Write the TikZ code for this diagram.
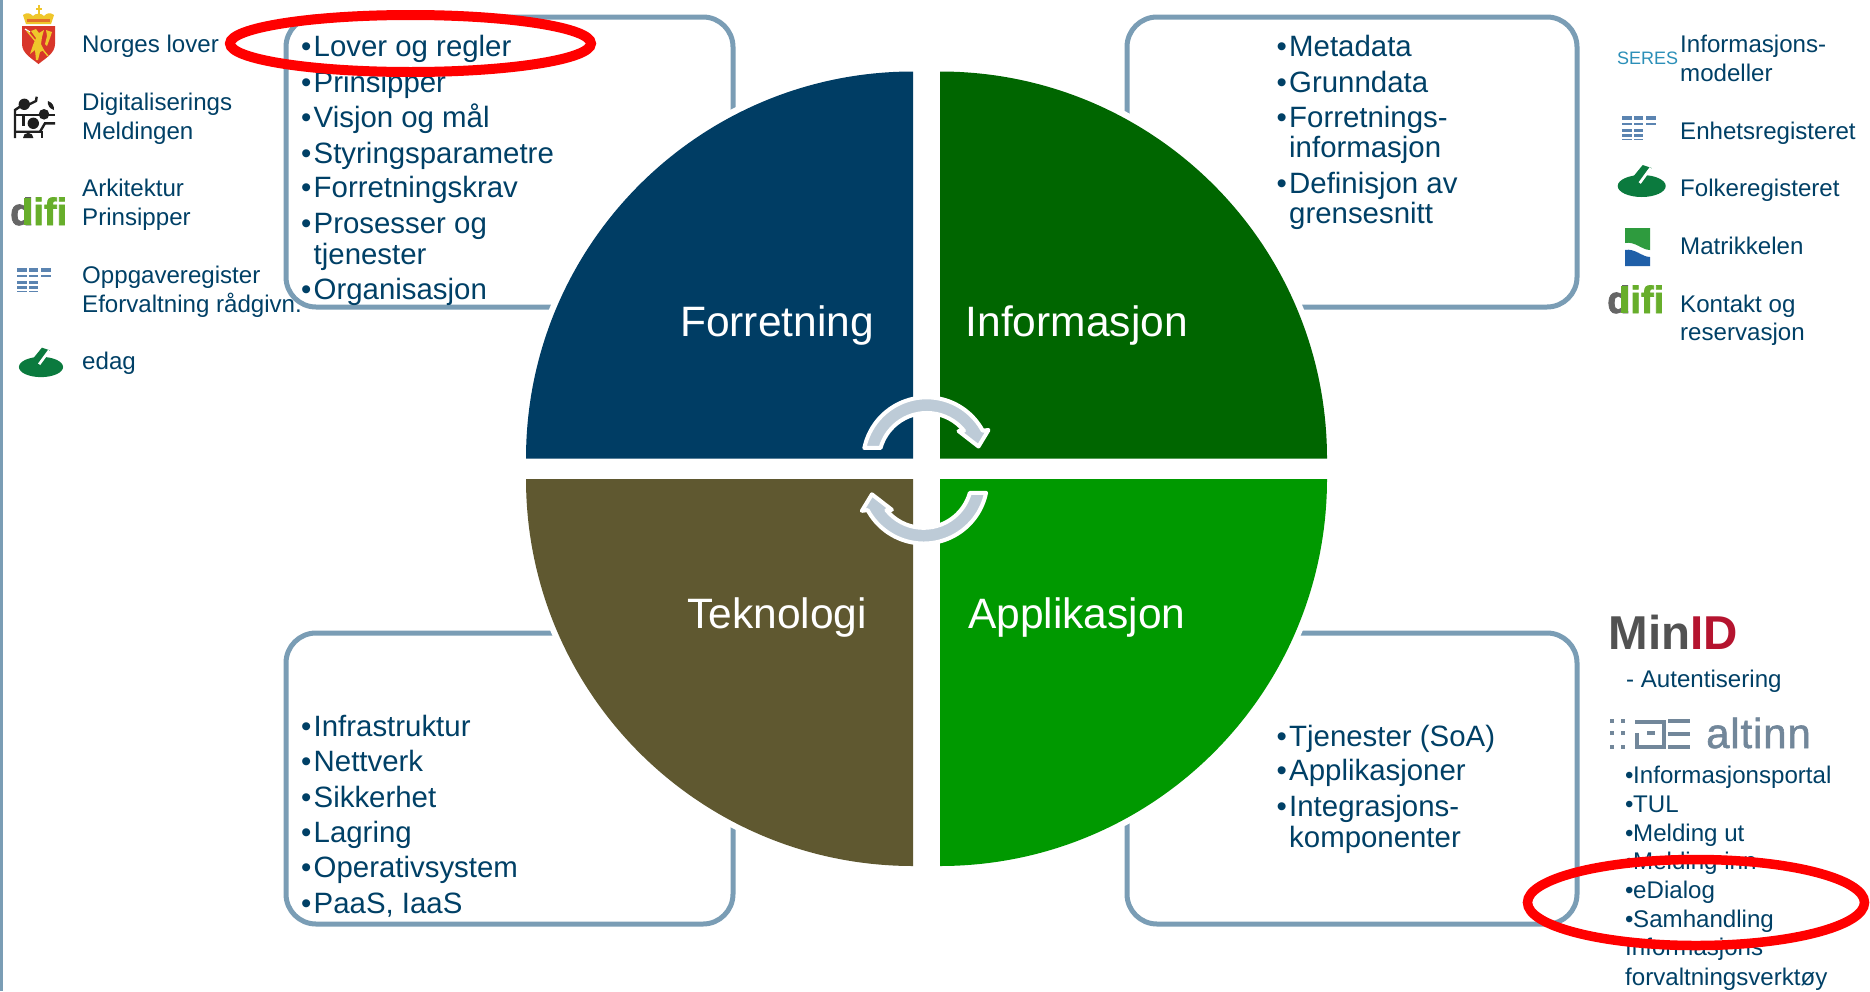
\documentclass[tikz,border=0pt]{standalone}
\usepackage{fontspec}
\setmainfont{Liberation Sans}
\newfontfamily\logobold{Liberation Sans Bold}[FakeBold=2]
\newfontfamily\altf{Liberation Sans}[FakeBold=1.3,LetterSpace=2]
\definecolor{txt}{HTML}{004066}
\definecolor{frame}{HTML}{7A9DB5}
\definecolor{qblue}{HTML}{003D64}
\definecolor{qdark}{HTML}{006600}
\definecolor{qolive}{HTML}{5F5830}
\definecolor{qgreen}{HTML}{009900}
\definecolor{arr}{HTML}{BDCBD7}
\definecolor{leaf}{HTML}{0B7A3E}
\definecolor{regb}{HTML}{5B84B1}
\definecolor{difig}{HTML}{67AE2B}
\definecolor{difid}{HTML}{666666}
\definecolor{minr}{HTML}{B5142F}
\definecolor{graylogo}{HTML}{72879A}
\definecolor{seresc}{HTML}{2B8FB8}
\definecolor{armred}{HTML}{D8362A}
\definecolor{armgold}{HTML}{EFC62B}
\definecolor{matg}{HTML}{2E9B3E}
\definecolor{matb}{HTML}{1F5FA8}
\newcommand{\bl}{\makebox[12.5pt][l]{•}}
\newcommand{\bs}{\makebox[8pt][l]{•}}
\newcommand{\regicon}[2]{%
  \begin{scope}[shift={(#1,#2)}]
    \foreach \yy/\hh in {0/3.5,-6.5/2.5,-12.5/3,-18/2.5,-22.5/1.5}{
      \fill[regb] (0,\yy) rectangle ++(9.5,-\hh);
      \fill[regb] (11.5,\yy) rectangle ++(9.5,-\hh);
    }
    \foreach \yy/\hh in {0/3.5,-6.5/2.5}{\fill[regb] (24,\yy) rectangle ++(9.5,-\hh);}
  \end{scope}}
\newcommand{\leaficon}[3]{%
  \begin{scope}[shift={(#1,#2)},scale=#3]
    \fill[leaf] (0,0) ellipse [x radius=24,y radius=11];
    \fill[leaf] (-8,10) -- (1,21) -- (10,18) -- (3,9) -- cycle;
    \draw[white,line width=2.7] (-2,3) -- (9,18);
  \end{scope}}
\newcommand{\difilogo}[2]{%
  \node[anchor=base west,inner sep=0,font=\fontsize{38}{38}\selectfont\logobold] at (#1,#2) {\textcolor{difid}{d}\textcolor{difig}{ifi}};
  \fill[difig] (#1+14,#2) rectangle (#1+20.5,#2+27);}
\newcommand{\arcarrow}{%
  \filldraw[fill=arr,draw=white,line width=4,line join=round]
    (926.7,-461) ++(168.2:63.7) arc[start angle=168.2,end angle=28.4,radius=63.7]
    -- (988.5,-430) -- (978.5,-446.5) -- (958.5,-431) -- (964,-430.7)
    arc[start angle=39.1,end angle=164.3,radius=48] -- cycle;}
\tikzset{
  x=1pt,y=1pt,
  bigl/.style={anchor=base west,inner sep=0,text=txt,yshift=-1pt,font=\fontsize{29.4}{31}\selectfont},
  smal/.style={anchor=base west,inner sep=0,text=txt,yshift=1pt,font=\fontsize{24.1}{26}\selectfont},
  qlabel/.style={anchor=base west,inner sep=0,text=white,font=\fontsize{42.5}{44}\selectfont},
  boxframe/.style={draw=frame,line width=5,rounded corners=30},
  redring/.style={draw=red,line width=#1}
}
\begin{document}
\begin{tikzpicture}
\useasboundingbox (0,0) rectangle (1870,-991);
\fill[white] (0,0) rectangle (1870,-991);
\fill[frame] (0,0) rectangle (3,-991);
% frames
\draw[boxframe] (286,-17) rectangle (733,-307);
\draw[boxframe] (1127,-17) rectangle (1577,-307);
\draw[boxframe] (286,-633) rectangle (733,-924);
\draw[boxframe] (1127,-633) rectangle (1577,-924);
% quadrants
\fill[white] (913,-458) -- ++(-393,0) arc[start angle=180,end angle=90,radius=393] -- cycle;
\fill[white] (940,-458) -- ++(0,393) arc[start angle=90,end angle=0,radius=393] -- cycle;
\fill[white] (913,-479) -- ++(0,-393) arc[start angle=270,end angle=180,radius=393] -- cycle;
\fill[white] (940,-479) -- ++(393,0) arc[start angle=0,end angle=-90,radius=393] -- cycle;
\fill[qblue] (913,-458.5) -- ++(-387,0) arc[start angle=180,end angle=90,radius=387] -- cycle;
\fill[qdark] (940,-458.5) -- ++(0,387) arc[start angle=90,end angle=0,radius=387] -- cycle;
\fill[qolive] (913,-479) -- ++(0,-387) arc[start angle=270,end angle=180,radius=387] -- cycle;
\fill[qgreen] (940,-479) -- ++(387,0) arc[start angle=0,end angle=-90,radius=387] -- cycle;
\node[qlabel] (forretning) at (680,-336) {Forretning};
\node[qlabel] (informasjon) at (965.5,-336) {Informasjon};
\node[qlabel] (teknologi) at (687,-628) {Teknologi};
\node[qlabel] (applikasjon) at (968,-628) {Applikasjon};
% cycle arrows
\arcarrow
\begin{scope}[rotate around={180:(925.2,-470.4)}]
\arcarrow
\end{scope}
% top-left list
\node[bigl] (tl1) at (301,-55) {\bl Lover og regler};
\node[bigl] (tl2) at (301,-91) {\bl Prinsipper};
\node[bigl] (tl3) at (301,-126) {\bl Visjon og mål};
\node[bigl] (tl4) at (301,-162) {\bl Styringsparametre};
\node[bigl] (tl5) at (301,-196) {\bl Forretningskrav};
\node[bigl] (tl6) at (301,-232) {\bl Prosesser og};
\node[bigl] (tl7) at (313.5,-263) {tjenester};
\node[bigl] (tl8) at (301,-298) {\bl Organisasjon};
% top-right list
\node[bigl] (tr1) at (1276.5,-55) {\bl Metadata};
\node[bigl] (tr2) at (1276.5,-91) {\bl Grunndata};
\node[bigl] (tr3) at (1276.5,-126) {\bl Forretnings-};
\node[bigl] (tr4) at (1289,-156) {informasjon};
\node[bigl] (tr5) at (1276.5,-192) {\bl Definisjon av};
\node[bigl] (tr6) at (1289,-222) {grensesnitt};
% bottom-left list
\node[bigl] (bl1) at (301,-735) {\bl Infrastruktur};
\node[bigl] (bl2) at (301,-770) {\bl Nettverk};
\node[bigl] (bl3) at (301,-806) {\bl Sikkerhet};
\node[bigl] (bl4) at (301,-841) {\bl Lagring};
\node[bigl] (bl5) at (301,-876) {\bl Operativsystem};
\node[bigl] (bl6) at (301,-912) {\bl PaaS, IaaS};
% bottom-right list
\node[bigl] (br1) at (1276.5,-745) {\bl Tjenester (SoA)};
\node[bigl] (br2) at (1276.5,-779) {\bl Applikasjoner};
\node[bigl] (br3) at (1276.5,-815) {\bl Integrasjons-};
\node[bigl] (br4) at (1289,-846) {komponenter};
% left column
\node[smal] (l1) at (82,-53) {Norges lover};
\node[smal] (l2) at (82,-111) {Digitaliserings};
\node[smal] (l3) at (82,-140) {Meldingen};
\node[smal] (l4) at (82,-197) {Arkitektur};
\node[smal] (l5) at (82,-226) {Prinsipper};
\node[smal] (l6) at (82,-284) {Oppgaveregister};
\node[smal] (l7) at (82,-313) {Eforvaltning rådgivn.};
\node[smal] (l8) at (82,-370) {edag};
% right column
\node[smal] (r1) at (1680,-53) {Informasjons-};
\node[smal] (r2) at (1680,-82) {modeller};
\node[smal] (r3) at (1680,-140) {Enhetsregisteret};
\node[smal] (r4) at (1680,-197) {Folkeregisteret};
\node[smal] (r5) at (1680,-255) {Matrikkelen};
\node[smal] (r6) at (1680,-313) {Kontakt og};
\node[smal] (r7) at (1680,-341) {reservasjon};
% logos right
\node[anchor=base west,inner sep=0,text=seresc,font=\fontsize{18}{20}\selectfont] (seres) at (1617,-64.5) {SERES};
\regicon{1622}{-116}
\leaficon{1641.7}{-186}{1}
\fill[matg] (1625,-228) -- (1650,-228) -- (1650,-250) .. controls (1642,-250) and (1635,-241) .. (1625,-243) -- cycle;
\fill[matb] (1625,-250) .. controls (1635,-248) and (1642,-257) .. (1650,-257) -- (1650,-266) -- (1625,-266) -- cycle;
\difilogo{1607}{-313}
% logos left
\regicon{17}{-268}
\leaficon{41}{-367}{0.92}
\difilogo{10}{-225}
% coat of arms
\fill[armred] (22,-26) -- (55,-26) -- (55,-44) .. controls (55,-53) and (46,-58) .. (38.5,-64) .. controls (31,-58) and (22,-53) .. (22,-44) -- cycle;
\fill[armgold] (23,-15) .. controls (27,-12) and (30,-13) .. (33,-16) .. controls (35,-13) and (42,-13) .. (44,-16) .. controls (47,-13) and (50,-12) .. (54,-15) -- (51,-24) -- (26,-24) -- cycle;
\fill[armred!60!armgold] (27,-19) rectangle (50,-21.5);
\fill[armgold] (37.5,-5) rectangle (39.5,-14);
\fill[armgold] (35.5,-7.5) rectangle (41.5,-9.5);
\fill[armgold] (31,-31) -- (36,-29) -- (39,-33) -- (44,-30) -- (42,-37) -- (41,-44) -- (44,-50) -- (40,-52) -- (38,-60) -- (36,-60) -- (35,-50) -- (30,-54) -- (33,-45) -- (36,-38) -- cycle;
\fill[armgold] (46,-30) -- (52,-32) -- (50,-38) -- (47,-46) -- (45,-44) -- (47,-36) -- cycle;
\draw[white,line width=1.2] (25,-29) -- (30,-32);
\draw[armgold,line width=1.4] (27,-31) -- (48,-56);
% digital icon
\begin{scope}[line width=2.4,black!88]
  \draw (15,-138) -- (15,-110) -- (24,-104);
  \draw (28,-105) -- (36,-101) -- (36.7,-96.7);
  \draw (15,-115) -- (55,-115);
  \draw (23.3,-115) -- (23.3,-126);
  \draw (15,-131.7) -- (40,-131.7) -- (45,-123.3) -- (55,-123.3);
  \draw (41.7,-131) -- (41.7,-138);
  \fill (24.3,-104.3) circle (5.7);
  \fill (44,-114.3) circle (5.3);
  \fill (33.3,-123.3) circle (5.7);
  \fill (48,-101) .. controls (53,-103) and (54,-106) .. (54,-110) .. controls (50,-109) and (47,-105) .. (48,-101) -- cycle;
  \fill (23,-138) arc[start angle=180,end angle=0,radius=5.2] -- cycle;
\end{scope}
% MinID / altinn
\node[anchor=base west,inner sep=0,font=\fontsize{47.5}{48}\selectfont\bfseries] (minid) at (1608.5,-649) {\textcolor{black!68}{Min}\textcolor{minr}{ID}};
\node[smal] (aut) at (1626,-688) {- Autentisering};
\foreach \xx in {1610,1621}{\foreach \yy in {-719,-731,-745}{\fill[graylogo] (\xx,\yy) rectangle ++(4,-4);}}
\begin{scope}[graylogo,line width=4]
  \draw (1635,-722) -- (1664,-722) -- (1664,-747) -- (1637,-747) -- (1637,-733);
  \draw (1647,-733) -- (1655,-733);
  \draw (1668,-720.5) -- (1690,-720.5);
  \draw (1668,-733.5) -- (1690,-733.5);
  \draw (1668,-747) -- (1690,-747);
\end{scope}
\node[anchor=base west,inner sep=0,text=graylogo,font=\fontsize{42}{45}\selectfont\altf] (altinn) at (1706,-748) {altinn};
\node[smal] (a1) at (1625,-784) {\bs Informasjonsportal};
\node[smal] (a2) at (1625,-813) {\bs TUL};
\node[smal] (a3) at (1625,-842) {\bs Melding ut};
\node[smal] (a4) at (1625,-870) {\bs Melding inn};
\node[smal] (a5) at (1625,-899) {\bs eDialog};
\node[smal] (a6) at (1625,-928) {\bs Samhandling};
\node[smal] (a7) at (1625,-956) {Informasjons};
\node[smal] (a8) at (1625,-986) {forvaltningsverktøy};
% red rings
\draw[redring=10] (410.5,-43.5) ellipse [x radius=180.5,y radius=28.5];
\draw[redring=9.5] (1696,-902.5) ellipse [x radius=168.5,y radius=43];
\end{tikzpicture}
\end{document}
